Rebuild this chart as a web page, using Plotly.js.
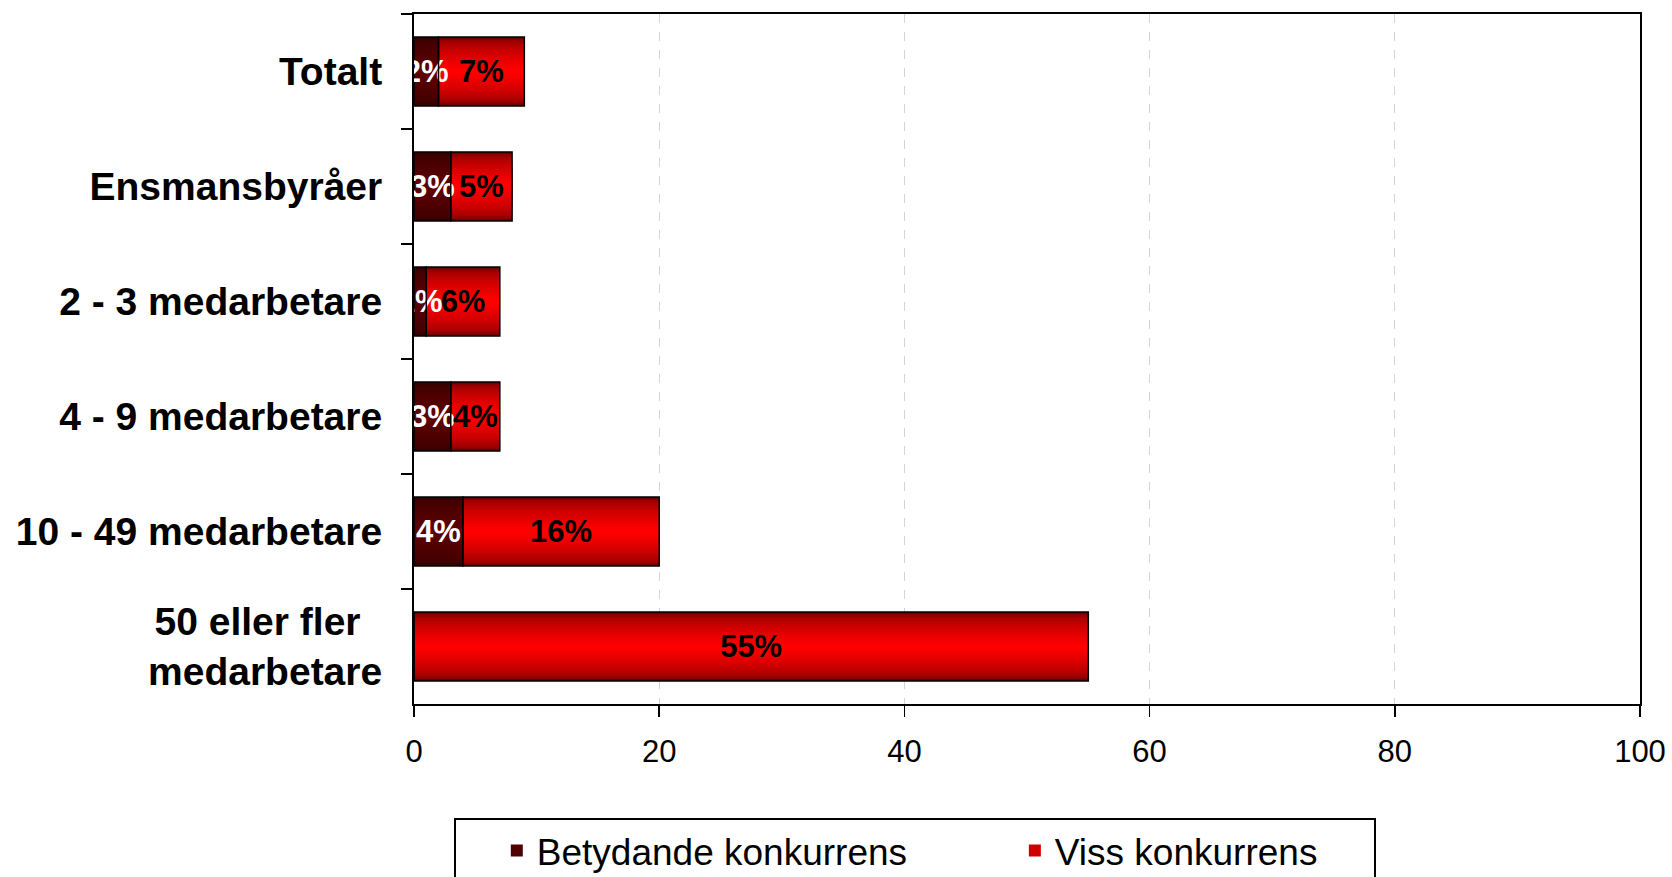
<!DOCTYPE html>
<html>
<head>
<meta charset="utf-8">
<script src="https://cdn.plot.ly/plotly-3.0.1.min.js"></script>
<style>
  html, body { margin: 0; padding: 0; background: #ffffff; }
  #chart { width: 1672px; height: 877px; }
</style>
</head>
<body>
<div id="chart"></div>
<script>
const categories = [
  "Totalt",
  "Ensmansbyråer",
  "2 - 3 medarbetare",
  "4 - 9 medarbetare",
  "10 - 49 medarbetare",
  "50 eller fler\u00a0\u00a0<br>medarbetare"
];
const betydande = [2, 3, 1, 3, 4, 0];
const viss = [7, 5, 6, 4, 16, 55];
const seriesNames = ["Betydande konkurrens", "Viss konkurrens"];
const xTicks = [0, 20, 40, 60, 80, 100];

const pct = v => v ? v + "%" : "";
const FONT = "Liberation Sans, Arial, sans-serif";
const BAR_W = 0.6;
const LAYERS = 14;
const NB = n => "\u00a0".repeat(n);
const legendNames = [seriesNames[0] + NB(10), seriesNames[1] + NB(5)];

function mix(c1, c2, t) {
  const r = Math.round(c1[0] + (c2[0] - c1[0]) * t);
  const g = Math.round(c1[1] + (c2[1] - c1[1]) * t);
  const b = Math.round(c1[2] + (c2[2] - c1[2]) * t);
  return "rgb(" + r + "," + g + "," + b + ")";
}

// gradient layers (edge colour -> centre colour), drawn as concentric bars
function gradientLayers(idx, values, base, edge, centre, legendLayer) {
  const out = [];
  for (let k = 0; k < LAYERS; k++) {
    const t = Math.sqrt(k / (LAYERS - 1));
    out.push({
      type: "bar", orientation: "h", name: legendNames[idx],
      y: categories, x: values, base: base,
      width: BAR_W * (1 - k / LAYERS),
      marker: { color: mix(edge, centre, t), line: { width: 0 } },
      showlegend: k === legendLayer, legendgroup: seriesNames[idx],
      hoverinfo: "skip"
    });
  }
  return out;
}

const zeros = categories.map(() => 0);

const traces = [].concat(
  gradientLayers(0, betydande, zeros, [52, 0, 0], [92, 0, 0], 6),
  gradientLayers(1, viss, betydande, [112, 0, 0], [255, 0, 0], 6),
  [
    {
      type: "bar", orientation: "h", name: seriesNames[0],
      y: categories, x: betydande, base: zeros, width: BAR_W,
      text: betydande.map(pct),
      textposition: "inside", insidetextanchor: "middle", textangle: 0,
      constraintext: "none", cliponaxis: false,
      textfont: { family: FONT, size: 31, color: "#ffffff", weight: "bold" },
      marker: { color: "rgba(0,0,0,0)", line: { color: "#000000", width: 1.5 } },
      showlegend: false, legendgroup: seriesNames[0], hoverinfo: "x+name"
    },
    {
      type: "bar", orientation: "h", name: seriesNames[1],
      y: categories, x: viss, base: betydande, width: BAR_W,
      text: viss.map(pct),
      textposition: "inside", insidetextanchor: "middle", textangle: 0,
      constraintext: "none", cliponaxis: false,
      textfont: { family: FONT, size: 31, color: "#000000", weight: "bold" },
      marker: { color: "rgba(0,0,0,0)", line: { color: "#000000", width: 1.5 } },
      showlegend: false, legendgroup: seriesNames[1], hoverinfo: "x+name"
    }
  ]
);

const layout = {
  width: 1672, height: 877,
  paper_bgcolor: "#ffffff", plot_bgcolor: "#ffffff",
  margin: { l: 414, r: 32, t: 14, b: 173, autoexpand: false },
  barmode: "overlay",
  font: { family: FONT, color: "#000000" },
  showlegend: true,
  legend: {
    orientation: "h", x: 0.0326, xanchor: "left", y: -0.165, yanchor: "top",
    bordercolor: "#000000", borderwidth: 2, bgcolor: "#ffffff",
    font: { family: FONT, size: 37, color: "#000000" },
    title: { text: "\u00a0\u00a0\u00a0", side: "left", font: { family: FONT, size: 37 } },
    traceorder: "normal", itemclick: false
  },
  xaxis: {
    range: [0, 100], tickvals: xTicks, ticktext: xTicks.map(String),
    showgrid: true, gridcolor: "#d4d4d4", griddash: "dash", gridwidth: 1,
    zeroline: false, showline: true, linecolor: "#000000", linewidth: 2,
    mirror: true, ticks: "outside", ticklen: 11, tickwidth: 1.5, tickcolor: "#000000",
    tickfont: { family: FONT, size: 31, color: "#000000" }, ticklabelstandoff: 8
  },
  yaxis: {
    type: "category", autorange: "reversed",
    showgrid: false, zeroline: false, showline: true, linecolor: "#000000", linewidth: 2,
    mirror: true, ticks: "outside", tickson: "boundaries", ticklen: 11, tickwidth: 2, tickcolor: "#000000",
    tickfont: { family: FONT, size: 39, color: "#000000", weight: "bold" }, ticklabelstandoff: 22
  }
};

Plotly.newPlot("chart", traces, layout, { displayModeBar: false, staticPlot: true });
</script>
</body>
</html>
